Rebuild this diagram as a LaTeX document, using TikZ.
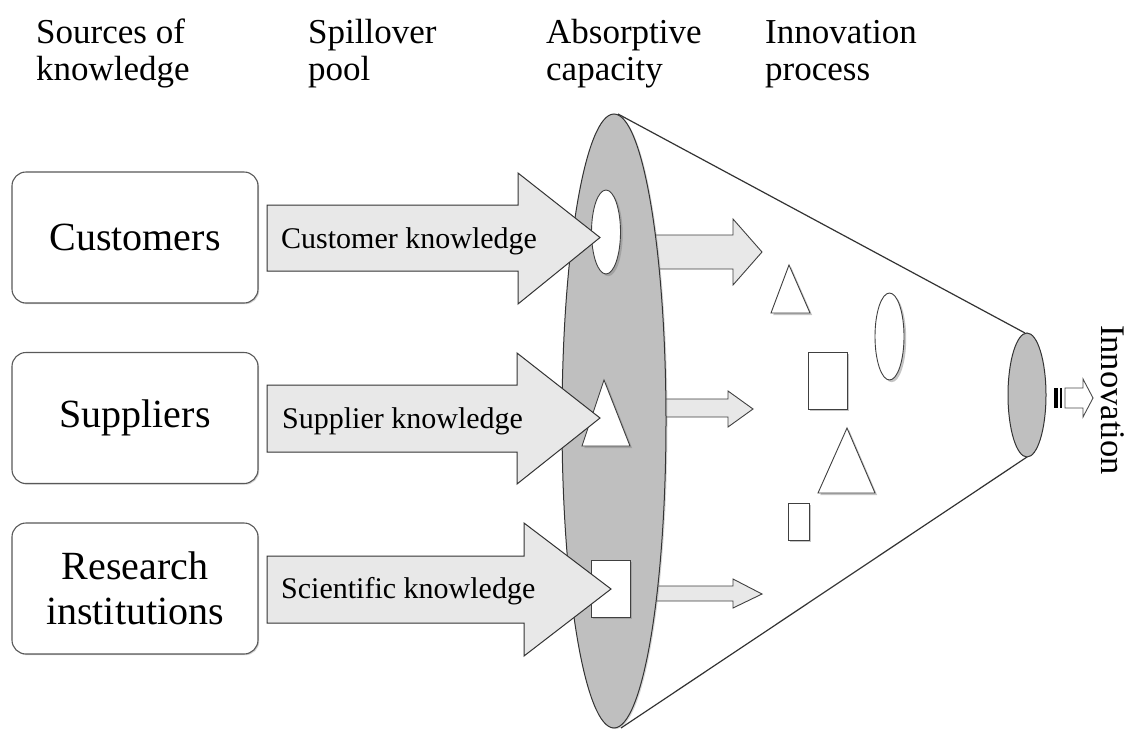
\documentclass[tikz,border=0pt]{standalone}
\usepackage{fontspec}
\setmainfont{Liberation Serif}
\usetikzlibrary{shadows}
\begin{document}
\begin{tikzpicture}[x=1pt,y=-1pt,
  hdr/.style={anchor=base west, inner sep=0pt, font=\fontsize{35}{38}\selectfont},
  srcbox/.style={draw=black!65, line width=1.1pt, rounded corners=14pt, fill=white,
    minimum width=246pt, minimum height=131pt, inner sep=0pt, align=center,
    font=\fontsize{40}{45}\selectfont,
    drop shadow={shadow xshift=1.2pt, shadow yshift=-1.2pt, opacity=0.35}},
  bigarrow/.style={draw=black!80, line width=1pt, fill=black!9, line join=miter},
  smallarrow/.style={draw=black!75, line width=0.9pt, fill=black!9},
  arrowtext/.style={anchor=base west, inner sep=0pt, font=\fontsize{30}{33}\selectfont},
  disc/.style={draw=black!80, line width=1pt, fill=black!25},
  whiteshape/.style={draw=black!75, line width=0.9pt, fill=white,
    drop shadow={shadow xshift=2.2pt, shadow yshift=-2.2pt, opacity=0.45}},
  conel/.style={draw=black!80, line width=1.2pt}
]
\useasboundingbox[fill=white] (0,0) rectangle (1127,731);

% headers
\node[hdr] (h1a) at (36,43) {Sources of};
\node[hdr] (h1b) at (36,80) {knowledge};
\node[hdr] (h2a) at (308,43) {Spillover};
\node[hdr] (h2b) at (308,80) {pool};
\node[hdr] (h3a) at (546,43) {Absorptive};
\node[hdr] (h3b) at (546,80) {capacity};
\node[hdr] (h4a) at (765,43) {Innovation};
\node[hdr] (h4b) at (765,80) {process};

% source boxes
\node[srcbox] (cust) at (135,237.5) {Customers};
\node[srcbox] (supp) at (135,418) {Suppliers};
\node[srcbox] (res) at (135,588.5) {Research\\institutions};

% small arrows leaving the disc
\draw[smallarrow] (640,235) -- (733,235) -- (733,219) -- (762,252) -- (733,285) -- (733,269) -- (640,269) -- cycle;
\draw[smallarrow] (640,399) -- (728,399) -- (728,391) -- (753,409) -- (728,427) -- (728,417) -- (640,417) -- cycle;
\draw[smallarrow] (640,586) -- (733,586) -- (733,579) -- (762,594) -- (733,608) -- (733,601) -- (640,601) -- cycle;

% cone
\draw[conel] (618,114) -- (1025,333);
\draw[conel] (621,728) -- (1027,457);
\draw[disc, drop shadow={shadow xshift=1.5pt, shadow yshift=-1pt, opacity=0.3}] (614,421) ellipse [x radius=52, y radius=307];
\draw[disc] (1027,395) ellipse [x radius=19, y radius=62];

% shapes in the absorptive capacity disc
\draw[whiteshape] (606,232) ellipse [x radius=14.5, y radius=42];
\draw[whiteshape] (604,380) -- (630,446) -- (582,446) -- cycle;
\draw[whiteshape] (591,560) rectangle (630,617);

% shapes in the innovation process
\draw[whiteshape] (789,265) -- (810,313) -- (771,313) -- cycle;
\draw[whiteshape] (889.5,336.5) ellipse [x radius=14.5, y radius=43.5];
\draw[whiteshape] (808,352) rectangle (847,409);
\draw[whiteshape] (847,428) -- (875,493) -- (818,493) -- cycle;
\draw[whiteshape] (788,503) rectangle (809,540);

% big spillover arrows
\draw[bigarrow] (267,205) -- (518,205) -- (518,173) -- (600,237.5) -- (518,304) -- (518,271) -- (267,271) -- cycle;
\draw[bigarrow] (267,385) -- (517,385) -- (517,353) -- (600,418) -- (517,484) -- (517,452) -- (267,452) -- cycle;
\draw[bigarrow] (267,556) -- (524,556) -- (524,523) -- (611,589) -- (524,656) -- (524,623) -- (267,623) -- cycle;
\node[arrowtext] (t1) at (281,248) {Customer knowledge};
\node[arrowtext] (t2) at (282,428) {Supplier knowledge};
\node[arrowtext] (t3) at (281,598) {Scientific knowledge};

% innovation output arrow
\fill[black] (1054,388) rectangle (1058,408);
\fill[black] (1060,388) rectangle (1062,408);
\draw[draw=black!70, line width=0.9pt, fill=white] (1065,388) -- (1083,388) -- (1083,379) -- (1093,398) -- (1083,417) -- (1083,408) -- (1065,408) -- cycle;
\node[anchor=base west, inner sep=0pt, rotate=-90, font=\fontsize{34.5}{38}\selectfont] (inno) at (1101,325) {Innovation};
\end{tikzpicture}
\end{document}
